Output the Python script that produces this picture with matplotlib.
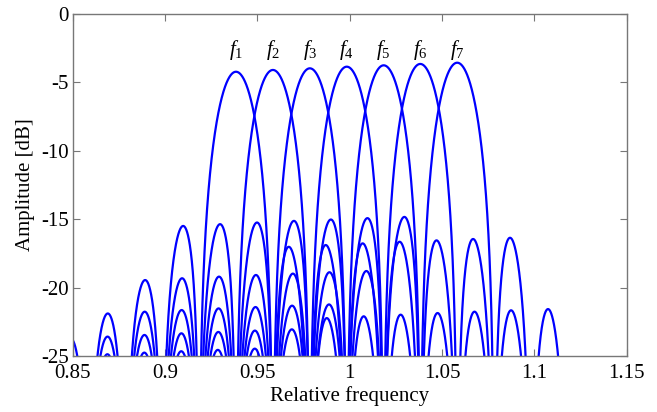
import numpy as np
import matplotlib
matplotlib.use("Agg")
import matplotlib.pyplot as plt
from matplotlib.ticker import FuncFormatter

plt.rcParams['font.family'] = ['Liberation Serif', 'DejaVu Serif']
plt.rcParams['mathtext.fontset'] = 'custom'
plt.rcParams['mathtext.rm'] = 'Liberation Serif'
plt.rcParams['mathtext.it'] = 'Liberation Serif:italic'
plt.rcParams['axes.unicode_minus'] = False

# filter centres and peak levels
centers = [0.9384, 0.9584, 0.9784, 0.9984, 1.0184, 1.0382, 1.0582]
peaks = [-4.22, -4.09, -3.97, -3.85, -3.75, -3.65, -3.56]
labels = ['$f_1$', '$f_2$', '$f_3$', '$f_4$', '$f_5$', '$f_6$', '$f_7$']
label_level = -2.6
null_spacing = 0.02

# lobe depth relative to a plain sinc, per lobe order (0 = main lobe)
scale_left = [0.85, 0.85, 0.854, 0.85, 0.848, 0.845, 0.845, 0.845, 0.845, 0.845]
scale_right = [0.83, 0.965, 1.01, 1.05, 1.05, 1.05, 1.05, 1.05, 1.05, 1.05]

xticks = [0.85, 0.9, 0.95, 1, 1.05, 1.1, 1.15]
yticks = [-25, -20, -15, -10, -5, 0]

fig = plt.figure(figsize=(6.57, 4.12), dpi=100)
ax = fig.add_axes([0.1107, 0.1359, 0.8432, 0.8301])

f = np.linspace(0.85, 1.15, 30001)
for c, p in zip(centers, peaks):
    x = (f - c) / null_spacing
    order = np.floor(np.abs(x)).astype(int)
    sc = np.where(x < 0, np.take(scale_left, order, mode='clip'),
                  np.take(scale_right, order, mode='clip'))
    db = p + sc * 20 * np.log10(np.abs(np.sinc(x)) + 1e-12)
    ax.plot(f, db, color='#0000ff', lw=1.6)

for c, lab in zip(centers, labels):
    ax.text(c, label_level, lab, ha='center', va='center', fontsize=15)

ax.set_xlim(0.85, 1.15)
ax.set_ylim(-25, 0)
ax.set_xticks(xticks)
ax.set_yticks(yticks)
ax.xaxis.set_major_formatter(FuncFormatter(lambda v, pos: '%g' % v))
ax.yaxis.set_major_formatter(FuncFormatter(lambda v, pos: '%g' % v))
ax.tick_params(direction='in', top=True, right=True, length=5,
               color='#777777', labelsize=15)
ax.tick_params(axis='x', pad=6)
ax.tick_params(axis='y', pad=3)
for s in ax.spines.values():
    s.set_color('#777777')
    s.set_linewidth(1.0)

ax.set_xlabel('Relative frequency', fontsize=15, labelpad=2)
ax.set_ylabel('Amplitude [dB]', fontsize=15, labelpad=4)

fig.savefig('out.png', dpi=100)
